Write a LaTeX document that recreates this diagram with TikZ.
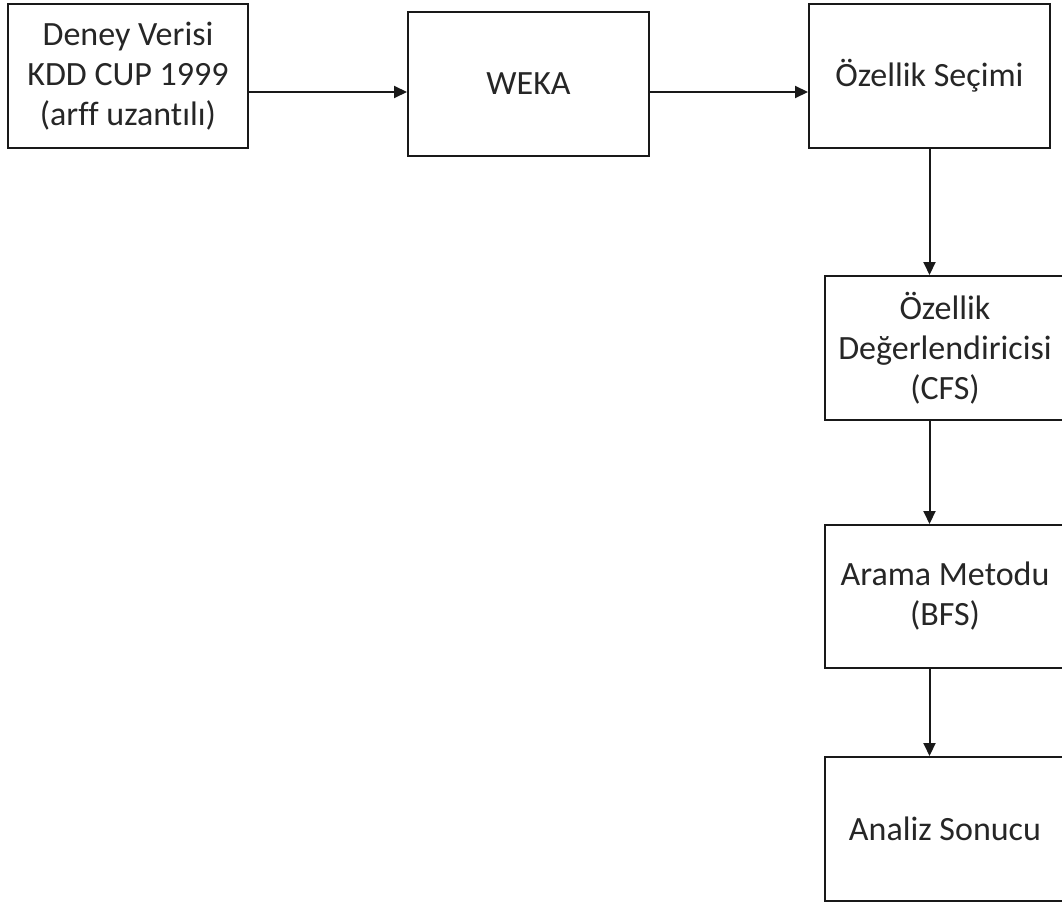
\documentclass[tikz,border=0pt]{standalone}
\usepackage{fontspec}
\setmainfont[Ligatures=NoCommon]{Carlito}
\usetikzlibrary{arrows.meta}
\begin{document}
\begin{tikzpicture}[x=1pt,y=-1pt,
  box/.style={draw=black!90, line width=2pt, minimum width=240pt, minimum height=144pt,
    inner sep=0pt, align=center, font=\fontsize{34}{40}\selectfont, text=black!85},
  arr/.style={draw=black!90, line width=2pt, -{Triangle[length=13pt,width=12pt]}}]
\useasboundingbox (0,0) rectangle (1062,907);
\node[box] (b1) at (128,76) {Deney Verisi\\KDD CUP 1999\\(arff uzantılı)};
\node[box, minimum width=241pt] (b2) at (528.5,84) {WEKA};
\node[box, minimum width=241pt] (b3) at (929.5,76) {Özellik Seçimi};
\node[box] (b4) at (945,348) {Özellik\\Değerlendiricisi\\(CFS)};
\node[box, minimum height=143pt] (b5) at (945,596.5) {Arama Metodu\\(BFS)};
\node[box] (b6) at (945,829) {Analiz Sonucu};
\draw[arr] (b1.east |- 0,92) -- (b2.west |- 0,92);
\draw[arr] (b2.east |- 0,92) -- (b3.west |- 0,92);
\draw[arr] (b3.south) -- (b3.south |- b4.north);
\draw[arr] (b4.south -| b3.south) -- (b5.north -| b3.south);
\draw[arr] (b5.south -| b3.south) -- (b6.north -| b3.south);
\end{tikzpicture}
\end{document}
